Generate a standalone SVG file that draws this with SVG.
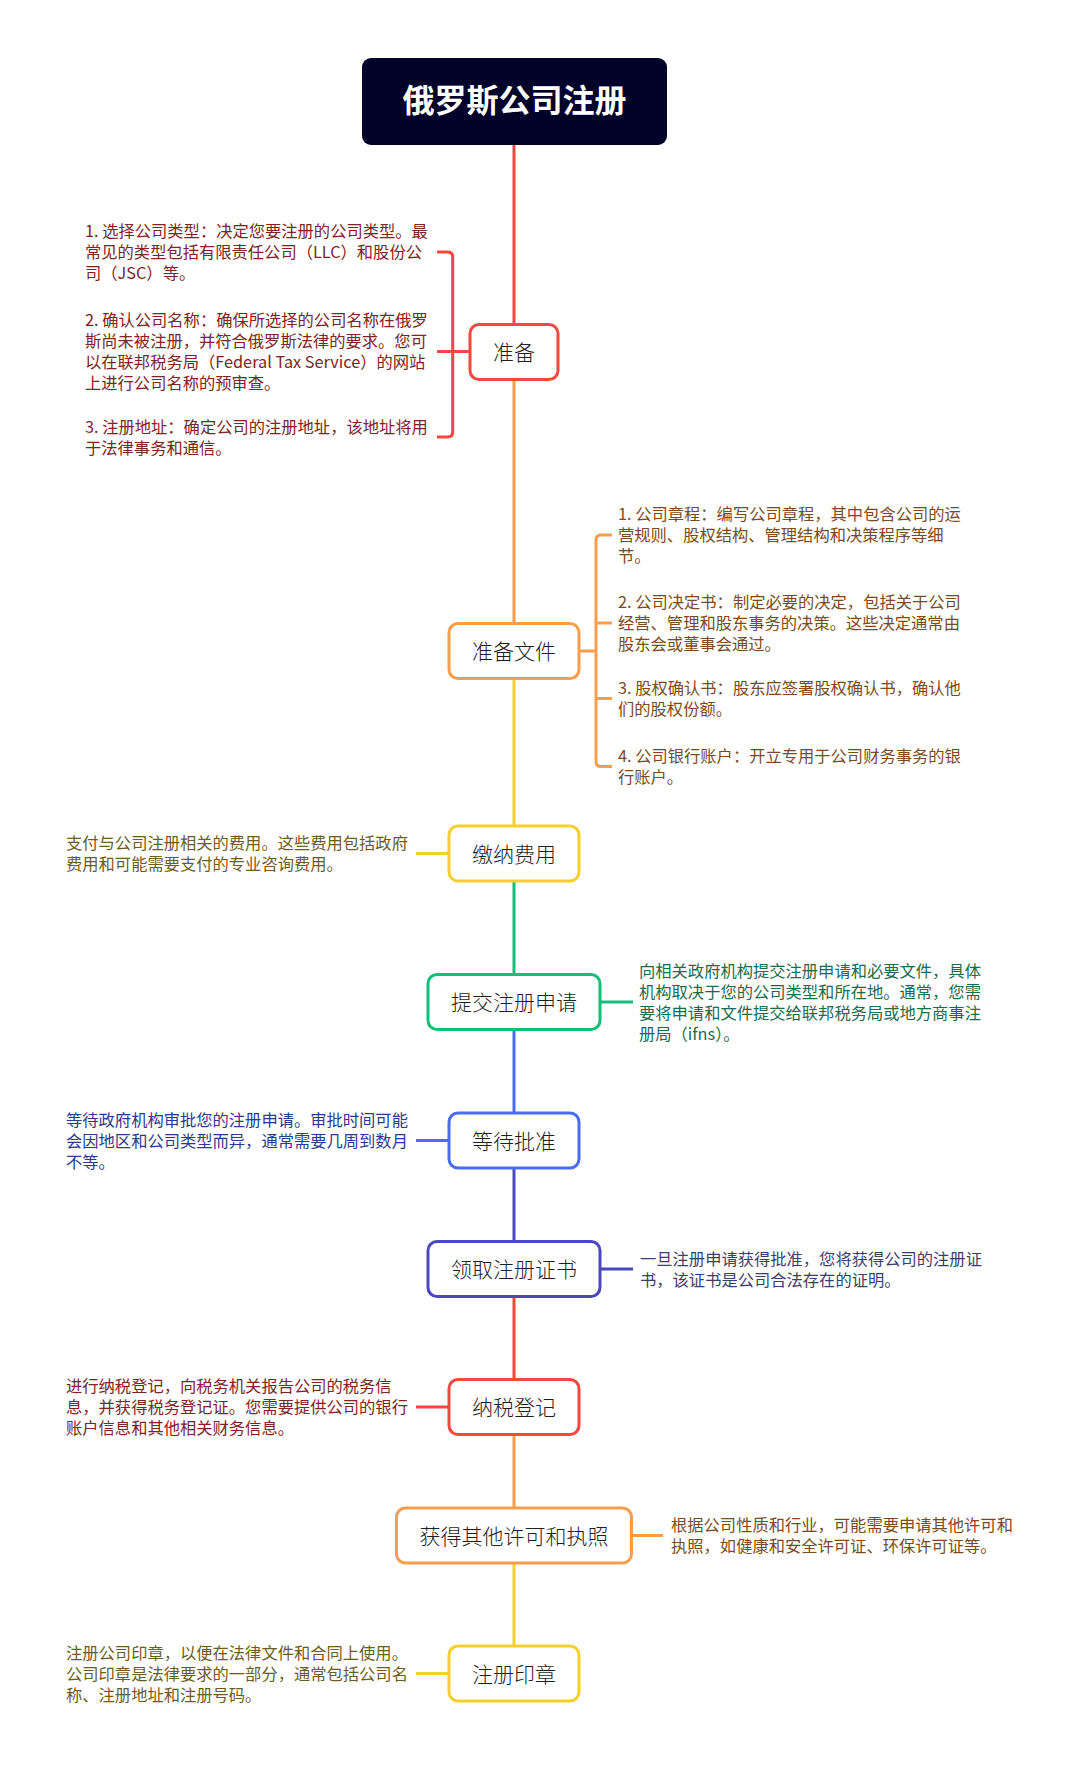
<svg xmlns="http://www.w3.org/2000/svg" width="1080" height="1770" viewBox="0 0 1080 1770">
<style>
.bg{fill:#ffffff}
.node{fill:#ffffff;stroke-width:3}
.nt{font-family:"Noto Sans CJK SC","Noto Sans",sans-serif;font-size:21px;font-weight:300;fill:#1e1e1e;text-anchor:middle}
.tt{font-family:"Noto Sans CJK SC","Noto Sans",sans-serif;font-size:32px;font-weight:bold;fill:#ffffff;text-anchor:middle}
.d{font-family:"Noto Sans CJK SC","Noto Sans",sans-serif;font-size:16.3px}
.ln{fill:none;stroke-width:3;stroke-linecap:butt;stroke-linejoin:round}
.red{stroke:#f4473f}.org{stroke:#f79d4c}.yel{stroke:#f5cf2a}.grn{stroke:#13bf78}.blu{stroke:#4a6cf2}.ind{stroke:#4b47bf}
.tred{fill:#7d2424}.torg{fill:#7a4b20}.tyel{fill:#6b5d1f}.tgrn{fill:#1c6b4a}.tblu{fill:#2d3a8c}.tind{fill:#3d3d6b}
</style>
<rect class="bg" x="0" y="0" width="1080" height="1770"/>
<g id="connectors">
<path class="ln red" d="M514,101 V352"/>
<path class="ln org" d="M514,352 V651"/>
<path class="ln yel" d="M514,651 V853.5"/>
<path class="ln grn" d="M514,853.5 V1002"/>
<path class="ln blu" d="M514,1002 V1140.5"/>
<path class="ln ind" d="M514,1140.5 V1269"/>
<path class="ln red" d="M514,1269 V1407"/>
<path class="ln org" d="M514,1407 V1535.5"/>
<path class="ln yel" d="M514,1535.5 V1673.5"/>
<path class="ln red" d="M437,252 H447.7 Q452.7,252 452.7,257 V432 Q452.7,437 447.7,437 H437 M437,351.5 H470"/>
<path class="ln org" d="M612,535 H601 Q596,535 596,540 V761.5 Q596,766.5 601,766.5 H612 M596,623 H612 M596,698.5 H612 M558,651 H596"/>
<path class="ln yel" d="M416,853.5 H449"/>
<path class="ln grn" d="M600,1002 H633"/>
<path class="ln blu" d="M416,1140.5 H449"/>
<path class="ln ind" d="M600,1269 H633"/>
<path class="ln red" d="M416,1407 H449"/>
<path class="ln org" d="M631,1535.5 H663"/>
<path class="ln yel" d="M416,1673.5 H449"/>
</g>
<g id="title">
<rect x="362" y="58" width="305" height="87" rx="9" fill="#01022a"/>
<text class="tt" x="514.5" y="112">俄罗斯公司注册</text>
</g>
<g id="n1">
<rect class="node red" x="470" y="324.5" width="88" height="55" rx="9"/>
<text class="nt" x="514" y="360">准备</text>
<text class="d tred" x="85" y="237">1. 选择公司类型：决定您要注册的公司类型。最</text>
<text class="d tred" x="85" y="258">常见的类型包括有限责任公司（LLC）和股份公</text>
<text class="d tred" x="85" y="279">司（JSC）等。</text>
<text class="d tred" x="85" y="325.5">2. 确认公司名称：确保所选择的公司名称在俄罗</text>
<text class="d tred" x="85" y="346.5">斯尚未被注册，并符合俄罗斯法律的要求。您可</text>
<text class="d tred" x="85" y="367.5">以在联邦税务局（Federal Tax Service）的网站</text>
<text class="d tred" x="85" y="388.5">上进行公司名称的预审查。</text>
<text class="d tred" x="85" y="432.5">3. 注册地址：确定公司的注册地址，该地址将用</text>
<text class="d tred" x="85" y="453.5">于法律事务和通信。</text>
</g>
<g id="n2">
<rect class="node org" x="449" y="623.5" width="130" height="55" rx="9"/>
<text class="nt" x="514" y="659">准备文件</text>
<text class="d torg" x="618" y="520">1. 公司章程：编写公司章程，其中包含公司的运</text>
<text class="d torg" x="618" y="541">营规则、股权结构、管理结构和决策程序等细</text>
<text class="d torg" x="618" y="562">节。</text>
<text class="d torg" x="618" y="608">2. 公司决定书：制定必要的决定，包括关于公司</text>
<text class="d torg" x="618" y="629">经营、管理和股东事务的决策。这些决定通常由</text>
<text class="d torg" x="618" y="650">股东会或董事会通过。</text>
<text class="d torg" x="618" y="694">3. 股权确认书：股东应签署股权确认书，确认他</text>
<text class="d torg" x="618" y="715">们的股权份额。</text>
<text class="d torg" x="618" y="762">4. 公司银行账户：开立专用于公司财务事务的银</text>
<text class="d torg" x="618" y="783">行账户。</text>
</g>
<g id="n3">
<rect class="node yel" x="449" y="826" width="130" height="55" rx="9"/>
<text class="nt" x="514" y="861.5">缴纳费用</text>
<text class="d tyel" x="66" y="849">支付与公司注册相关的费用。这些费用包括政府</text>
<text class="d tyel" x="66" y="870">费用和可能需要支付的专业咨询费用。</text>
</g>
<g id="n4">
<rect class="node grn" x="428" y="974.5" width="172" height="55" rx="9"/>
<text class="nt" x="514" y="1010">提交注册申请</text>
<text class="d tgrn" x="639" y="976.5">向相关政府机构提交注册申请和必要文件，具体</text>
<text class="d tgrn" x="639" y="997.5">机构取决于您的公司类型和所在地。通常，您需</text>
<text class="d tgrn" x="639" y="1018.5">要将申请和文件提交给联邦税务局或地方商事注</text>
<text class="d tgrn" x="639" y="1039.5">册局（ifns）。</text>
</g>
<g id="n5">
<rect class="node blu" x="449" y="1113" width="130" height="55" rx="9"/>
<text class="nt" x="514" y="1148.5">等待批准</text>
<text class="d tblu" x="66" y="1125.5">等待政府机构审批您的注册申请。审批时间可能</text>
<text class="d tblu" x="66" y="1146.5">会因地区和公司类型而异，通常需要几周到数月</text>
<text class="d tblu" x="66" y="1167.5">不等。</text>
</g>
<g id="n6">
<rect class="node ind" x="428" y="1241.5" width="172" height="55" rx="9"/>
<text class="nt" x="514" y="1277">领取注册证书</text>
<text class="d tind" x="640" y="1264.5">一旦注册申请获得批准，您将获得公司的注册证</text>
<text class="d tind" x="640" y="1285.5">书，该证书是公司合法存在的证明。</text>
</g>
<g id="n7">
<rect class="node red" x="449" y="1379.5" width="130" height="55" rx="9"/>
<text class="nt" x="514" y="1415">纳税登记</text>
<text class="d tred" x="66" y="1392">进行纳税登记，向税务机关报告公司的税务信</text>
<text class="d tred" x="66" y="1413">息，并获得税务登记证。您需要提供公司的银行</text>
<text class="d tred" x="66" y="1434">账户信息和其他相关财务信息。</text>
</g>
<g id="n8">
<rect class="node org" x="396.5" y="1508" width="235" height="55" rx="9"/>
<text class="nt" x="514" y="1543.5">获得其他许可和执照</text>
<text class="d torg" x="671" y="1531">根据公司性质和行业，可能需要申请其他许可和</text>
<text class="d torg" x="671" y="1552">执照，如健康和安全许可证、环保许可证等。</text>
</g>
<g id="n9">
<rect class="node yel" x="449" y="1646" width="130" height="55" rx="9"/>
<text class="nt" x="514" y="1681.5">注册印章</text>
<text class="d tyel" x="66" y="1658.5">注册公司印章，以便在法律文件和合同上使用。</text>
<text class="d tyel" x="66" y="1679.5">公司印章是法律要求的一部分，通常包括公司名</text>
<text class="d tyel" x="66" y="1700.5">称、注册地址和注册号码。</text>
</g>
</svg>
